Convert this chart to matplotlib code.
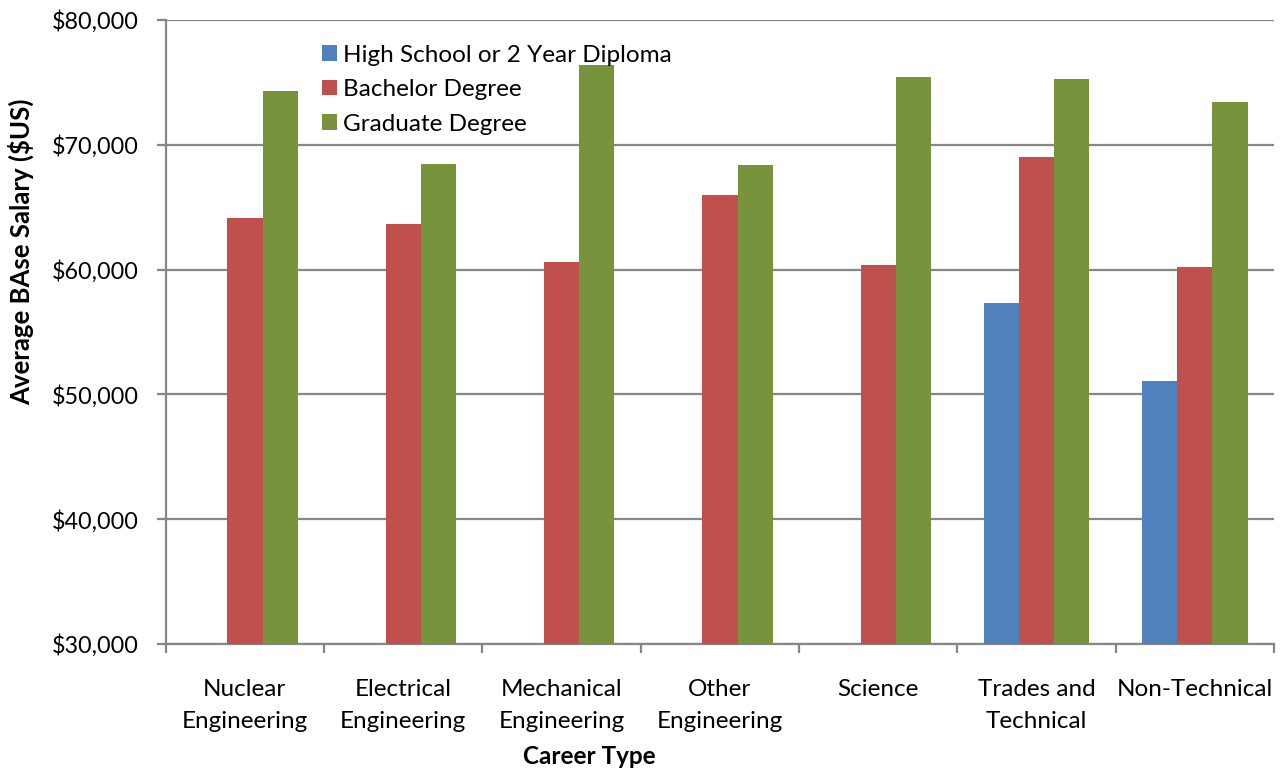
import matplotlib
matplotlib.use("Agg")
import matplotlib.pyplot as plt
import numpy as np
from matplotlib.ticker import FuncFormatter, FixedLocator

plt.rcParams['font.family'] = ['Lato', 'DejaVu Sans']

categories = ["Nuclear\nEngineering", "Electrical\nEngineering", "Mechanical\nEngineering",
              "Other\nEngineering", "Science", "Trades and\nTechnical", "Non-Technical"]
series_names = ["High School or 2 Year Diploma", "Bachelor Degree", "Graduate Degree"]
high_school = [np.nan, np.nan, np.nan, np.nan, np.nan, 57300, 51100]
bachelor = [64100, 63650, 60600, 66000, 60400, 69000, 60200]
graduate = [74350, 68500, 76400, 68400, 75450, 75250, 73400]
colors = ["#4F81BD", "#C0504D", "#77933C"]
y_ticks = [30000, 40000, 50000, 60000, 70000, 80000]

W, H = 1285, 771
fig = plt.figure(figsize=(W / 100, H / 100), dpi=100)
ax = fig.add_axes([165.7 / W, 1 - 644 / H, (1274 - 165.7) / W, (644 - 20) / H])

x = np.arange(len(categories))
bw = 0.223
for i, (vals, name, col) in enumerate(zip([high_school, bachelor, graduate], series_names, colors)):
    ax.bar(x + (i - 1) * bw, vals, width=bw, color=col, label=name, zorder=3,
           edgecolor="none")

ax.set_xlim(-0.5, len(categories) - 0.5)
ax.set_ylim(30000, 80000)

grid_col = "#868686"
ax.yaxis.set_major_locator(FixedLocator(y_ticks))
ax.yaxis.set_major_formatter(FuncFormatter(lambda v, p: f"${v:,.0f}"))
ax.grid(axis="y", color=grid_col, linewidth=1.6, zorder=1)
ax.set_axisbelow(True)

for side in ["top", "right"]:
    ax.spines[side].set_visible(False)
for side in ["left", "bottom"]:
    ax.spines[side].set_color(grid_col)
    ax.spines[side].set_linewidth(1.6)

ax.set_xticks(x)
ax.set_xticklabels(categories, fontsize=17.5, linespacing=1.68)
ax.set_xticks(np.arange(-0.5, len(categories)), minor=True)
ax.tick_params(axis="x", which="major", length=0, pad=25)
ax.tick_params(axis="x", which="minor", length=6.5, width=1.6, color=grid_col)
ax.tick_params(axis="y", which="major", length=6.3, width=1.6, color=grid_col,
               labelsize=16.8, pad=13)

fig.text(589.5 / W, 1 - 756 / H, "Career Type", fontsize=17.5, fontweight="bold",
         ha="center", va="center")
fig.text(21 / W, 1 - 252 / H, "Average BAse Salary ($US)", rotation=90,
         fontsize=18.5, fontweight="bold", ha="center", va="center")

ax.legend(loc="upper left", bbox_to_anchor=(321.7 / W, 1 - 44.5 / H),
          bbox_transform=fig.transFigure, frameon=False, fontsize=17.5,
          handlelength=0.62, handleheight=0.62, handletextpad=0.25,
          labelspacing=0.56, borderpad=0, borderaxespad=0)

fig.savefig("out.png", dpi=100)
